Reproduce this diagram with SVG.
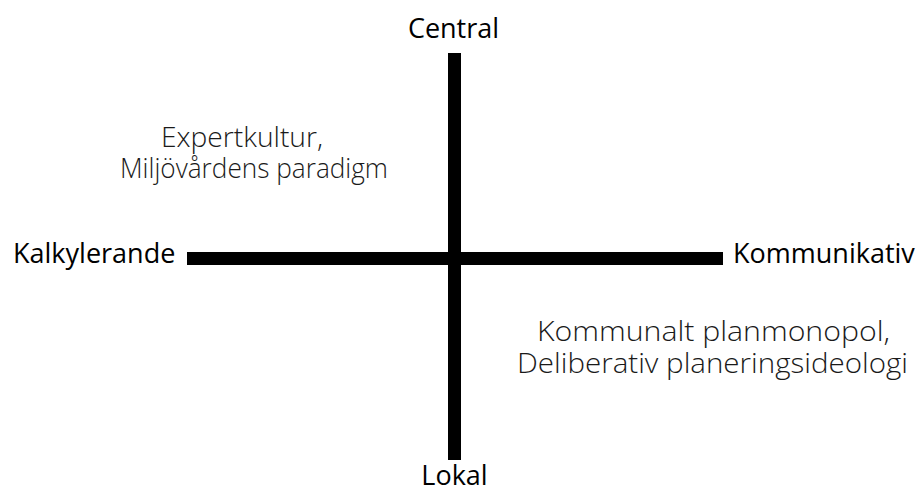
<svg xmlns="http://www.w3.org/2000/svg" width="920" height="489" viewBox="0 0 920 489">
<style>
.lbl{font-family:"Open Sans","Liberation Sans",sans-serif;font-size:27px;fill:#000}
.q{font-family:"Open Sans","Liberation Sans",sans-serif;font-size:27px;fill:#1a1a1a;font-weight:300}
.ax{stroke:#000;stroke-width:13;fill:none}
</style>
<rect width="920" height="489" fill="#fff"/>
<g id="connectors">
<line class="ax" x1="454.5" y1="53" x2="454.5" y2="460"/>
<line class="ax" x1="187" y1="258.5" x2="723" y2="258.5"/>
</g>
<g id="central"><text class="lbl" x="453.5" y="38" text-anchor="middle">Central</text></g>
<g id="lokal"><text class="lbl" x="454.5" y="485" text-anchor="middle">Lokal</text></g>
<g id="kalkylerande"><text class="lbl" x="13" y="263">Kalkylerande</text></g>
<g id="kommunikativ"><text class="lbl" x="733" y="263">Kommunikativ</text></g>
<g id="q1">
<text class="q" x="161" y="147" textLength="162" lengthAdjust="spacingAndGlyphs">Expertkultur,</text>
<text class="q" x="120" y="178" textLength="268" lengthAdjust="spacingAndGlyphs">Miljövårdens paradigm</text>
</g>
<g id="q2">
<text class="q" x="537" y="341" textLength="353" lengthAdjust="spacingAndGlyphs">Kommunalt planmonopol,</text>
<text class="q" x="517" y="373" textLength="391" lengthAdjust="spacingAndGlyphs">Deliberativ planeringsideologi</text>
</g>
</svg>
